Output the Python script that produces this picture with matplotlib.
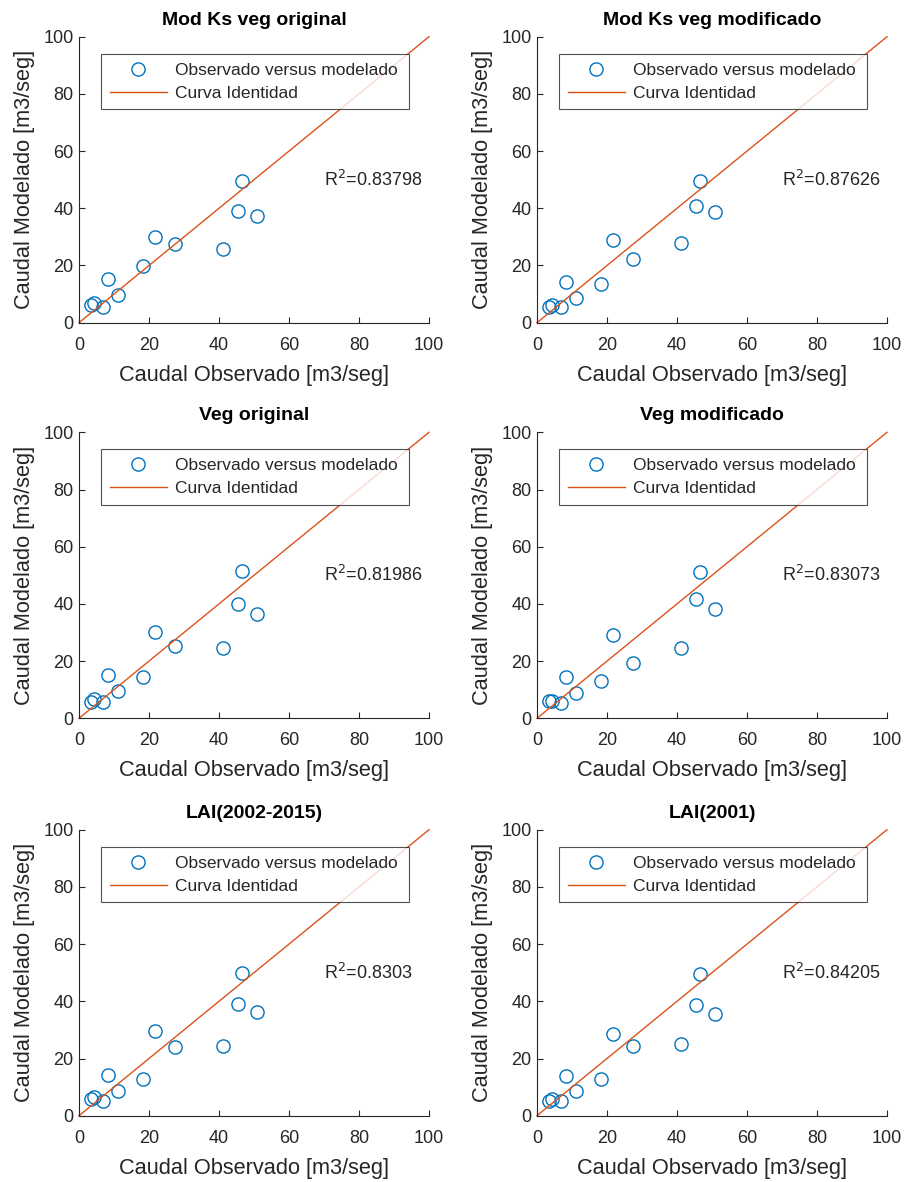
import matplotlib
matplotlib.use("Agg")
import matplotlib.pyplot as plt

plt.rcParams['font.family'] = ['Liberation Sans', 'DejaVu Sans']

# Observed discharge (shared by every run)
observado = [3.3, 4.4, 6.8, 8.4, 11.2, 18.3, 21.7, 27.4, 41.2, 45.4, 46.6, 50.9]

# Modelled discharge for each configuration
mod_ks_veg_original = [6.2, 6.8, 5.6, 15.3, 9.6, 19.8, 30.0, 27.4, 25.6, 39.0, 49.7, 37.2]
mod_ks_veg_modificado = [5.6, 6.2, 5.6, 14.2, 8.7, 13.7, 28.8, 22.4, 28.0, 40.7, 49.4, 38.6]
veg_original = [5.8, 6.6, 5.6, 15.0, 9.4, 14.5, 30.2, 25.2, 24.6, 39.8, 51.4, 36.3]
veg_modificado = [6.0, 6.0, 5.2, 14.5, 8.9, 13.0, 29.3, 19.5, 24.6, 41.8, 51.0, 38.2]
lai_2002_2015 = [5.8, 6.4, 5.1, 14.4, 8.7, 12.9, 29.6, 24.0, 24.5, 39.2, 49.8, 36.1]
lai_2001 = [5.2, 5.8, 5.1, 13.8, 8.7, 12.9, 28.6, 24.5, 25.1, 38.7, 49.4, 35.7]

titulos = ["Mod Ks veg original", "Mod Ks veg modificado",
           "Veg original", "Veg modificado",
           "LAI(2002-2015)", "LAI(2001)"]
series = [mod_ks_veg_original, mod_ks_veg_modificado, veg_original,
          veg_modificado, lai_2002_2015, lai_2001]
r2 = ["0.83798", "0.87626", "0.81986", "0.83073", "0.8303", "0.84205"]

identidad = [0, 100]
ticks = [0, 20, 40, 60, 80, 100]

W, H = 905, 1182
fig = plt.figure(figsize=(W / 100, H / 100), dpi=100)

gris = '#262626'
azul = '#0072BD'
naranja = '#D95319'

lefts = [79, 537]
bottoms = [322.7, 718.3, 1115.7]
aw, ah = 350, 286

for i in range(6):
    fila, col = divmod(i, 2)
    ax = fig.add_axes([lefts[col] / W, 1 - bottoms[fila] / H, aw / W, ah / H])
    ax.plot(observado, series[i], 'o', mfc='none', mec=azul, ms=9.5, mew=1.0,
            label='Observado versus modelado', clip_on=False)
    ax.plot(identidad, identidad, '-', color=naranja, lw=1.0,
            label='Curva Identidad', clip_on=False)
    ax.set_xlim(0, 100)
    ax.set_ylim(0, 100)
    ax.set_xticks(ticks)
    ax.set_yticks(ticks)
    for s in ['top', 'right']:
        ax.spines[s].set_visible(False)
    for s in ['left', 'bottom']:
        ax.spines[s].set_color(gris)
        ax.spines[s].set_linewidth(0.8)
    ax.tick_params(direction='in', length=4, width=0.8, colors=gris,
                   labelsize=13)
    ax.tick_params(axis='x', pad=10)
    ax.tick_params(axis='y', pad=4)
    ax.set_xlabel('Caudal Observado [m3/seg]', fontsize=15.7, color=gris, labelpad=8)
    ax.set_ylabel('Caudal Modelado [m3/seg]', fontsize=15.7, color=gris, labelpad=6)
    ax.set_title(titulos[i], fontsize=14, fontweight='bold', color='black', pad=8.5)
    ax.text(70, 50, 'R$^2$=' + r2[i], fontsize=13, color=gris, va='center', ha='left')
    leg = ax.legend(loc='upper left', bbox_to_anchor=(0.063, 0.94, 0.88, 0.0),
                    mode='expand', fontsize=12.5, frameon=True, fancybox=False,
                    edgecolor=gris, handlelength=3.3, handletextpad=0.45,
                    borderpad=0.5, labelspacing=0.45, borderaxespad=0)
    leg.get_frame().set_linewidth(0.8)
    for t in leg.get_texts():
        t.set_color(gris)

fig.savefig('out.png', dpi=100, facecolor='white')
